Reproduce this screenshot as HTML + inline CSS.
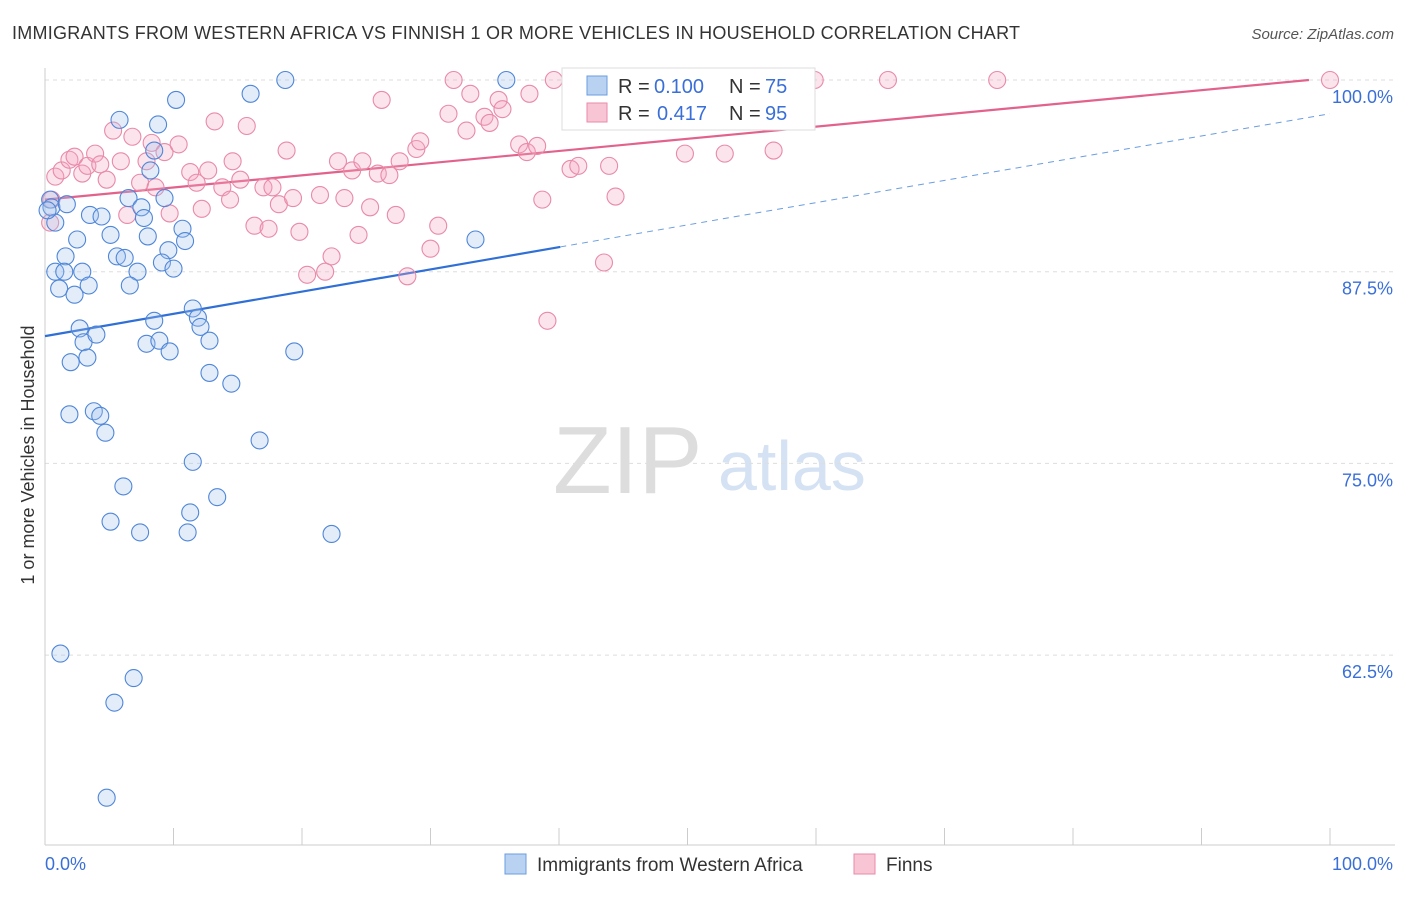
<!DOCTYPE html>
<html><head><meta charset="utf-8"><style>
body{margin:0;background:#fff;font-family:"Liberation Sans",sans-serif}
svg text{font-family:"Liberation Sans",sans-serif}
</style></head><body>
<svg id="chart" width="1406" height="892">
<text x="12" y="39" font-size="18" fill="#333" textLength="1008">IMMIGRANTS FROM WESTERN AFRICA VS FINNISH 1 OR MORE VEHICLES IN HOUSEHOLD CORRELATION CHART</text>
<text x="1394" y="39" font-size="15" fill="#555" text-anchor="end" font-style="italic">Source: ZipAtlas.com</text>
<text x="34" y="455" font-size="18" fill="#333" text-anchor="middle" transform="rotate(-90 34 455)">1 or more Vehicles in Household</text>
<g><text x="553" y="493" font-size="96" fill="#ddd" font-family="Liberation Serif">ZIP</text><text x="718" y="490" font-size="70" fill="#d5e2f3">atlas</text></g>
<g id="grid"></g><g id="axes"></g><g id="lines"></g><g id="pts"></g>
<g>
<rect x="562" y="68" width="253" height="62" fill="#fff" stroke="#ddd"/>
<rect x="587" y="76" width="20" height="19" fill="#b9d2f2" stroke="#6b9de0"/>
<text x="618" y="93" font-size="20" fill="#333">R =</text><text x="654" y="93" font-size="20" fill="#3a6fd8">0.100</text>
<text x="729" y="93" font-size="20" fill="#333">N =</text><text x="765" y="93" font-size="20" fill="#3a6fd8">75</text>
<rect x="587" y="103" width="20" height="19" fill="#f8c5d5" stroke="#e88aa8"/>
<text x="618" y="120" font-size="20" fill="#333">R =</text><text x="657" y="120" font-size="20" fill="#3a6fd8">0.417</text>
<text x="729" y="120" font-size="20" fill="#333">N =</text><text x="765" y="120" font-size="20" fill="#3a6fd8">95</text>
</g>
<g>
<rect x="505" y="854" width="21" height="20" fill="#b9d2f2" stroke="#6b9de0"/>
<text x="537" y="871" font-size="19" fill="#333">Immigrants from Western Africa</text>
<rect x="854" y="854" width="21" height="20" fill="#f8c5d5" stroke="#e88aa8"/>
<text x="886" y="871" font-size="19" fill="#333">Finns</text>
</g>
</svg>
<script>
const yTicks=[100,87.5,75,62.5];
const yTickLabels=["100.0%","87.5%","75.0%","62.5%"];
const blueX=[0.4,0.5,0.8,0.2,1.7,3.5,4.4,2.5,5.1,1.6,0.8,2.9,1.5,1.1,2.3,3.4,5.8,8.8,10.2,16.0,18.7,35.9,8.5,8.2,6.5,7.5,7.7,9.3,8.0,9.6,10.7,10.9,5.6,6.2,7.2,6.6,9.1,10.0,11.5,11.9,12.1,12.8,8.5,2.7,3.0,4.0,3.3,2.0,7.9,8.9,9.7,12.8,14.5,19.4,33.5,1.9,3.8,4.3,4.7,16.7,11.5,6.1,13.4,11.3,5.1,7.4,11.1,22.3,1.2,6.9,5.4,4.8];
const blueY=[92.2,91.7,90.7,91.5,91.9,91.2,91.1,89.6,89.9,88.5,87.5,87.5,87.5,86.4,86.0,86.6,97.4,97.1,98.7,99.1,100,100,95.4,94.1,92.3,91.7,91.0,92.3,89.8,88.9,90.3,89.5,88.5,88.4,87.5,86.6,88.1,87.7,85.1,84.5,83.9,83.0,84.3,83.8,82.9,83.4,81.9,81.6,82.8,83.0,82.3,80.9,80.2,82.3,89.6,78.2,78.4,78.1,77.0,76.5,75.1,73.5,72.8,71.8,71.2,70.5,70.5,70.4,62.6,61.0,59.4,53.2];
const pinkX=[0.8,0.5,0.4,1.3,1.9,2.3,2.9,3.3,3.9,4.3,4.8,5.3,5.9,6.4,6.8,7.4,7.9,8.3,8.6,9.3,9.7,10.4,11.3,11.8,12.2,12.7,13.2,13.8,14.4,14.6,15.2,15.7,16.3,17.0,17.4,17.7,18.2,18.8,19.3,19.8,20.4,21.4,21.8,22.3,22.8,23.3,23.9,24.4,24.7,25.3,25.9,26.2,26.8,27.3,27.6,28.2,28.9,29.2,30.0,30.6,31.4,31.8,32.8,33.1,34.2,34.6,35.3,35.6,36.9,37.5,37.7,38.3,38.7,39.1,39.6,40.9,41.5,43.5,43.9,44.4,46.7,49.8,52.9,55.6,56.7,59.9,65.6,74.1,100];
const pinkY=[93.7,92.2,90.7,94.1,94.8,95.0,93.9,94.4,95.2,94.5,93.5,96.7,94.7,91.2,96.3,93.3,94.7,95.9,93.0,95.3,91.3,95.8,94.0,93.3,91.6,94.1,97.3,93.0,92.2,94.7,93.5,97.0,90.5,93.0,90.3,93.0,91.9,95.4,92.3,90.1,87.3,92.5,87.5,88.5,94.7,92.3,94.1,89.9,94.7,91.7,93.9,98.7,93.8,91.2,94.7,87.2,95.5,96.0,89.0,90.5,97.8,100,96.7,99.1,97.6,97.2,98.7,98.1,95.8,95.3,99.1,95.7,92.2,84.3,100,94.2,94.4,88.1,94.4,92.4,100,95.2,95.2,100,95.4,100,100,100,100];
const blueTrend=[83.3,0.145];
const pinkTrend=[92.2,0.0793];
const X=v=>45+v*12.85, Y=v=>80+(100-v)*15.336;
const NS="http://www.w3.org/2000/svg";
function mk(p,t,a){const e=document.createElementNS(NS,t);for(const k in a)e.setAttribute(k,a[k]);p.appendChild(e);return e;}
const grid=document.getElementById('grid'),axes=document.getElementById('axes'),lines=document.getElementById('lines'),pts=document.getElementById('pts');
yTicks.forEach((t,i)=>{
 const l=mk(grid,'line',{x1:45,x2:1395,y1:Y(t),y2:Y(t),stroke:'#ddd','stroke-dasharray':'4,4'});
 
 
 const tx=mk(axes,'text',{x:1393,y:Y(t)+23,'font-size':18,fill:'#3a6fd8','text-anchor':'end'});
 tx.textContent=yTickLabels[i];
 
 
});
const al=mk(axes,'line',{x1:45,x2:45,y1:68,y2:845,stroke:'#ccc'});


const bl=mk(axes,'line',{x1:45,x2:1395,y1:845,y2:845,stroke:'#ccc'});


for(let k=0;k<=10;k++){
 const t=mk(axes,'line',{x1:X(k*10),x2:X(k*10),y1:828,y2:845,stroke:'#ccc'});
 
 
}
const x0=mk(axes,'text',{x:45,y:870,'font-size':18,fill:'#3a6fd8'});x0.textContent='0.0%';


const x1=mk(axes,'text',{x:1393,y:870,'font-size':18,fill:'#3a6fd8','text-anchor':'end'});x1.textContent='100.0%';


function dot(x,y,c,s,n){const e=mk(pts,'circle',{cx:X(x),cy:Y(y),r:8.5,fill:c,'fill-opacity':0.3,stroke:s,'stroke-width':1.1});
 
 }
pinkX.forEach((x,i)=>dot(x,pinkY[i],'#f4a6bf','#e88aa8','finns-point'));
blueX.forEach((x,i)=>dot(x,blueY[i],'#a3c2ee','#4f86d8','western-africa-point'));
const bEnd=40.1;
const b1=mk(lines,'line',{x1:X(0),y1:Y(blueTrend[0]),x2:X(bEnd),y2:Y(blueTrend[0]+blueTrend[1]*bEnd),stroke:'#2f6fd6','stroke-width':2.2});


const b2=mk(lines,'line',{x1:X(bEnd),y1:Y(blueTrend[0]+blueTrend[1]*bEnd),x2:X(100),y2:Y(blueTrend[0]+blueTrend[1]*100),stroke:'#6b9de0','stroke-width':1,'stroke-dasharray':'6,5'});


const pEnd=(100-pinkTrend[0])/pinkTrend[1];
const p1=mk(lines,'line',{x1:X(0),y1:Y(pinkTrend[0]),x2:X(pEnd),y2:Y(100),stroke:'#e2628c','stroke-width':2.2});


</script>
</body></html>
